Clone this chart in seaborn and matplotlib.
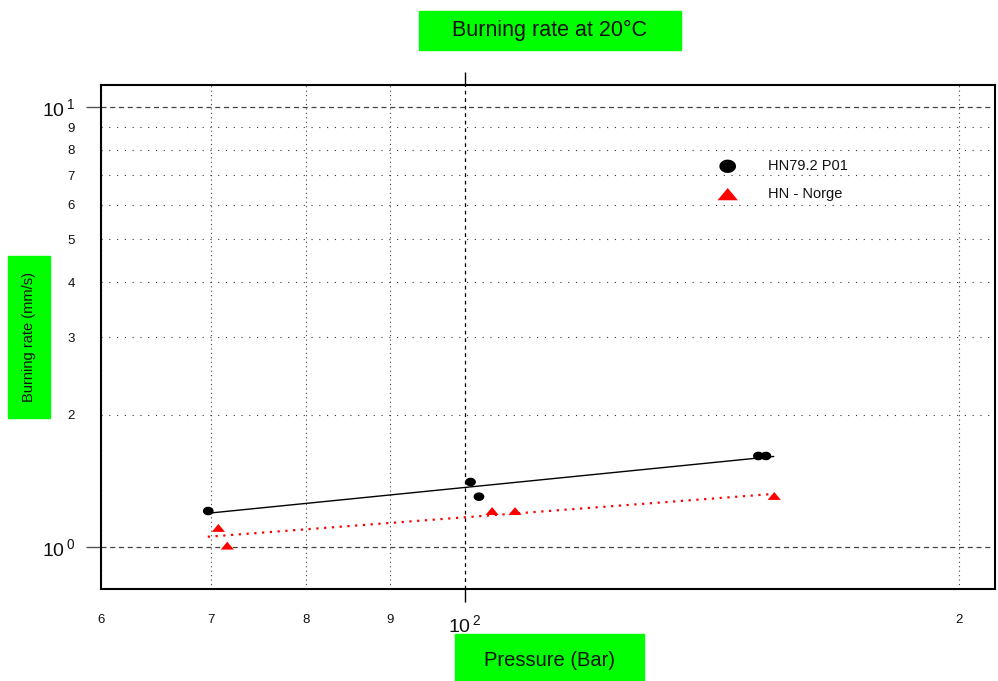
import numpy as np
import matplotlib
matplotlib.use("Agg")
import matplotlib.pyplot as plt
from matplotlib.patches import Rectangle
import seaborn as sns

# values (pressure in bar, burning rate in mm/s)
hn79_pressure = [69.75, 100.8, 102.0, 151.0, 152.6]
hn79_rate = [1.207, 1.405, 1.301, 1.610, 1.610]
norge_pressure = [70.75, 71.64, 103.9, 107.3, 154.4]
norge_rate = [1.105, 1.007, 1.207, 1.207, 1.306]

# trend line end points
fit_pressure = [69.7, 154.3]
hn79_fit = [1.193, 1.606]
norge_fit = [1.055, 1.320]

series_names = ["HN79.2 P01", "HN - Norge"]

x_major = [100]
x_major_labels = [r"$\mathregular{10^{\,2}}$"]
x_minor = [60, 70, 80, 90, 200]
x_minor_labels = ["6", "7", "8", "9", "2"]
y_major = [1, 10]
y_major_labels = [r"$\mathregular{10^{\,0}}$", r"$\mathregular{10^{\,1}}$"]
y_minor = [2, 3, 4, 5, 6, 7, 8, 9]
y_minor_labels = ["2", "3", "4", "5", "6", "7", "8", "9"]

sns.set_style("white")
plt.rcParams["font.family"] = ["Liberation Sans", "DejaVu Sans"]
plt.rcParams["mathtext.fontset"] = "custom"
plt.rcParams["mathtext.rm"] = "Liberation Sans"

fig = plt.figure(figsize=(9.98, 6.81), dpi=100)
ax = fig.add_axes([101 / 998, 92 / 681, 894 / 998, 504 / 681])
ax.set_xscale("log")
ax.set_yscale("log")

# marker shapes: slightly flattened circle and flat triangle
t = np.linspace(0, 2 * np.pi, 40)
oval = list(zip(np.cos(t), 0.8 * np.sin(t)))
flat_tri = [(-1, -0.6), (1, -0.6), (0, 0.6), (-1, -0.6)]

sns.lineplot(x=fit_pressure, y=hn79_fit, color="black", lw=1.0, ax=ax)
sns.lineplot(x=fit_pressure, y=norge_fit, color="red", lw=1.6,
             linestyle=(0, (1, 2.5)), ax=ax)
sns.scatterplot(x=hn79_pressure, y=hn79_rate, marker=oval, s=60,
                color="black", edgecolor="none", label=series_names[0], ax=ax, zorder=5)
sns.scatterplot(x=norge_pressure, y=norge_rate, marker=flat_tri, s=90,
                color="red", edgecolor="none", label=series_names[1], ax=ax, zorder=5)

ax.set_xlim(60, 210.5)
ax.set_ylim(0.8026, 11.22)

ax.set_xticks(x_major, labels=x_major_labels)
ax.set_xticks(x_minor, labels=x_minor_labels, minor=True)
ax.set_yticks(y_major, labels=y_major_labels)
ax.set_yticks(y_minor, labels=y_minor_labels, minor=True)

ax.tick_params(axis="x", which="major", direction="out", length=9.4, width=1,
               color="black", top=True, bottom=True, pad=9, labelsize=14,
               labelcolor="#111111")
ax.tick_params(axis="x", which="minor", length=0, pad=18, labelsize=9.5,
               labelcolor="#111111")
ax.tick_params(axis="y", which="major", direction="out", length=10.8, width=1,
               color="#555555", left=True, pad=8, labelsize=14,
               labelcolor="#111111")
ax.tick_params(axis="y", which="minor", length=0, pad=19, labelsize=9.5,
               labelcolor="#111111")

ax.xaxis.grid(True, which="major", color="black", lw=0.9, linestyle=(0, (3, 3)))
ax.xaxis.grid(True, which="minor", color="#444444", lw=0.8, linestyle=(0, (1, 3)))
ax.yaxis.grid(True, which="major", color="#444444", lw=0.9, linestyle=(0, (4, 3)))
ax.yaxis.grid(True, which="minor", color="#333333", lw=0.8, linestyle=(0, (1, 6)))

for sp in ax.spines.values():
    sp.set_color("black")
    sp.set_linewidth(1.5)

leg = ax.legend(frameon=False, loc="upper left", bbox_to_anchor=(0.670, 0.879),
                markerscale=1.55, handlelength=2, handletextpad=1.75,
                labelspacing=0.95, fontsize=10.5)
for txt in leg.get_texts():
    txt.set_color("#111111")

# green label boxes
green = "#00ff00"
fig.patches.append(Rectangle((419 / 998, 1 - 50 / 681), 262 / 998, 39 / 681,
                             transform=fig.transFigure, color=green, zorder=0))
fig.text(550 / 998, 1 - 30.5 / 681, "Burning rate at 20°C", ha="center",
         va="center", fontsize=15.5, color="#111111")
fig.patches.append(Rectangle((455 / 998, 0), 189 / 998, 47 / 681,
                             transform=fig.transFigure, color=green, zorder=0))
fig.text(549 / 998, 1 - 660 / 681, "Pressure (Bar)", ha="center",
         va="center", fontsize=14.5, color="#111111")
fig.patches.append(Rectangle((8 / 998, 1 - 418 / 681), 42 / 998, 162 / 681,
                             transform=fig.transFigure, color=green, zorder=0))
fig.text(29 / 998, 1 - 337 / 681, "Burning rate (mm/s)", ha="center",
         va="center", rotation=90, fontsize=10.5, color="#111111")

fig.savefig("out.png", dpi=100)
plt.close(fig)
